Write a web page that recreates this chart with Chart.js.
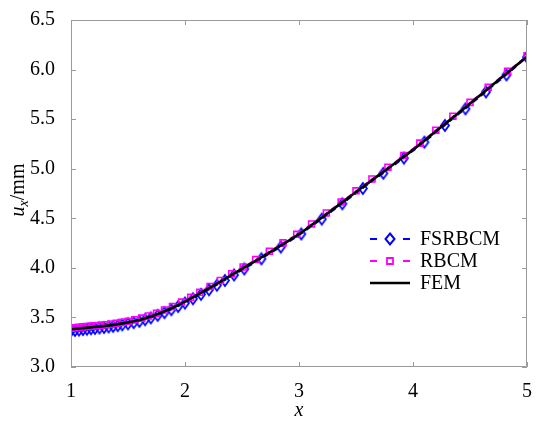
<!DOCTYPE html>
<html>
<head>
<meta charset="utf-8">
<script src="https://cdn.jsdelivr.net/npm/chart.js@4/dist/chart.umd.min.js"></script>
<style>
  html, body { margin: 0; padding: 0; background: #ffffff; }
  #wrap { width: 539px; height: 421px; }
</style>
</head>
<body>
<div id="wrap"><canvas id="c" width="539" height="421"></canvas></div>
<script>
// Displacement u_x along x for three solution methods
const fsrbcmX = [1.000, 1.035, 1.070, 1.105, 1.140, 1.175, 1.210, 1.250, 1.290, 1.330, 1.370, 1.410, 1.450,
  1.500, 1.550, 1.600, 1.650, 1.700, 1.760, 1.820, 1.880, 1.940, 2.000, 2.070, 2.140, 2.210, 2.280, 2.350,
  2.430, 2.520, 2.670, 2.840, 3.020, 3.200, 3.380, 3.560, 3.740, 3.920, 4.100, 4.280, 4.460, 4.640, 4.820, 5.000];
const fsrbcmY = [3.365, 3.369, 3.373, 3.378, 3.382, 3.386, 3.389, 3.394, 3.399, 3.404, 3.410, 3.417, 3.425,
  3.435, 3.447, 3.460, 3.477, 3.495, 3.521, 3.548, 3.578, 3.610, 3.645, 3.688, 3.733, 3.779, 3.825, 3.873,
  3.928, 3.989, 4.091, 4.210, 4.342, 4.492, 4.646, 4.801, 4.954, 5.107, 5.268, 5.436, 5.604, 5.775, 5.946, 6.125];

const rbcmX = [1.000, 1.035, 1.070, 1.105, 1.140, 1.180, 1.220, 1.260, 1.300, 1.350, 1.400, 1.450, 1.500,
  1.560, 1.620, 1.680, 1.750, 1.820, 1.890, 1.970, 2.050, 2.130, 2.220, 2.310, 2.410, 2.510, 2.620, 2.740,
  2.860, 2.980, 3.110, 3.240, 3.370, 3.500, 3.640, 3.780, 3.920, 4.060, 4.200, 4.350, 4.500, 4.660, 4.830, 5.000];
const rbcmY = [3.392, 3.396, 3.400, 3.405, 3.409, 3.413, 3.417, 3.422, 3.427, 3.434, 3.442, 3.452, 3.462,
  3.477, 3.493, 3.515, 3.543, 3.575, 3.610, 3.655, 3.703, 3.753, 3.812, 3.873, 3.941, 4.009, 4.084, 4.167,
  4.252, 4.338, 4.443, 4.553, 4.664, 4.777, 4.896, 5.015, 5.134, 5.258, 5.389, 5.529, 5.669, 5.821, 5.982, 6.140];

const femX = [1.0, 1.1, 1.2, 1.3, 1.4, 1.5, 1.6, 1.7, 1.8, 1.9, 2.0, 2.1, 2.2, 2.3, 2.4, 2.5, 2.6, 2.7, 2.8, 2.9,
  3.0, 3.1, 3.2, 3.3, 3.4, 3.5, 3.6, 3.7, 3.8, 3.9, 4.0, 4.1, 4.2, 4.3, 4.4, 4.5, 4.6, 4.7, 4.8, 4.9, 5.0];
const femY = [3.380, 3.392, 3.403, 3.415, 3.430, 3.450, 3.475, 3.510, 3.553, 3.603, 3.660, 3.722, 3.787, 3.854,
  3.922, 3.990, 4.058, 4.127, 4.197, 4.268, 4.340, 4.423, 4.507, 4.592, 4.678, 4.765, 4.850, 4.935, 5.020,
  5.105, 5.190, 5.283, 5.377, 5.470, 5.563, 5.657, 5.752, 5.847, 5.942, 6.036, 6.130];

const seriesNames = ['FSRBCM', 'RBCM', 'FEM'];
const xTickValues = [1, 2, 3, 4, 5];
const yTickValues = [3.0, 3.5, 4.0, 4.5, 5.0, 5.5, 6.0, 6.5];

const SERIF = "'Liberation Serif', 'Times New Roman', 'DejaVu Serif', serif";
const BLUE = 'rgb(0, 0, 255)';
const MAGENTA = 'rgb(255, 0, 255)';
const AXIS_GRAY = '#9a9a9a';

const toPoints = (xs, ys) => xs.map((x, i) => ({ x: x, y: ys[i] }));

// Narrow hollow diamond used as the FSRBCM marker
function diamondMarker(w, h, color, lw) {
  const cv = document.createElement('canvas');
  cv.width = w + 4; cv.height = h + 4;
  const g = cv.getContext('2d');
  const cx = cv.width / 2, cy = cv.height / 2;
  g.strokeStyle = color;
  g.lineWidth = lw;
  g.beginPath();
  g.moveTo(cx, cy - h / 2); g.lineTo(cx + w / 2, cy); g.lineTo(cx, cy + h / 2); g.lineTo(cx - w / 2, cy);
  g.closePath();
  g.stroke();
  return cv;
}
const diamondImg = diamondMarker(8, 11, BLUE, 1.8);

// Box around the plotting area with inward-pointing ticks on all four sides
const framePlugin = {
  id: 'frame',
  afterDatasetsDraw(chart) {
    const { ctx, chartArea: a, scales } = chart;
    const len = 5;
    ctx.save();
    ctx.strokeStyle = AXIS_GRAY;
    ctx.lineWidth = 1;
    ctx.beginPath();
    ctx.rect(a.left + 0.5, a.top + 0.5, a.right - a.left - 1, a.bottom - a.top - 1);
    xTickValues.forEach(v => {
      const px = Math.round(scales.x.getPixelForValue(v)) + 0.5;
      ctx.moveTo(px, a.bottom); ctx.lineTo(px, a.bottom - len);
      ctx.moveTo(px, a.top); ctx.lineTo(px, a.top + len);
    });
    yTickValues.forEach(v => {
      const py = Math.round(scales.y.getPixelForValue(v)) + 0.5;
      ctx.moveTo(a.left, py); ctx.lineTo(a.left + len, py);
      ctx.moveTo(a.right, py); ctx.lineTo(a.right - len, py);
    });
    ctx.stroke();
    ctx.restore();
  }
};

// Axis titles: italic x below, and u_x/mm with a subscript along the left side
const titlesPlugin = {
  id: 'titles',
  afterDraw(chart) {
    const { ctx, chartArea: a } = chart;
    ctx.save();
    ctx.fillStyle = '#000';
    ctx.textBaseline = 'alphabetic';
    ctx.textAlign = 'center';
    ctx.font = 'italic 20px ' + SERIF;
    ctx.fillText('x', (a.left + a.right) / 2, 416);

    // vertical title
    const mainFont = 'italic 20px ' + SERIF;
    const subFont = 'italic 14px ' + SERIF;
    const upFont = '20px ' + SERIF;
    ctx.font = mainFont; const wU = ctx.measureText('u').width;
    ctx.font = subFont; const wX = ctx.measureText('x').width;
    ctx.font = upFont; const wMm = ctx.measureText('/mm').width;
    const total = wU + wX + wMm;
    ctx.translate(24, 190);
    ctx.rotate(-Math.PI / 2);
    ctx.textAlign = 'left';
    let cx = -total / 2;
    ctx.font = mainFont; ctx.fillText('u', cx, 0); cx += wU;
    ctx.font = subFont; ctx.fillText('x', cx, 4); cx += wX;
    ctx.font = upFont; ctx.fillText('/mm', cx, 0);
    ctx.restore();
  }
};

// Legend entries inside the plot
const legendPlugin = {
  id: 'customLegend',
  afterDraw(chart) {
    const { ctx } = chart;
    const rows = [
      { name: seriesNames[0], color: BLUE, dashed: true, marker: 'diamond' },
      { name: seriesNames[1], color: MAGENTA, dashed: true, marker: 'square' },
      { name: seriesNames[2], color: '#000', dashed: false, marker: null }
    ];
    const x0 = 370, x1 = 410, tx = 420;
    const ys = [239, 261, 283];
    ctx.save();
    rows.forEach((r, i) => {
      const y = ys[i];
      ctx.strokeStyle = r.color;
      if (r.dashed) {
        ctx.lineWidth = 2;
        ctx.beginPath();
        ctx.moveTo(x0, y); ctx.lineTo(x0 + 7, y);
        ctx.moveTo(x1 - 7, y); ctx.lineTo(x1, y);
        ctx.stroke();
        const mx = (x0 + x1) / 2;
        ctx.beginPath();
        if (r.marker === 'diamond') {
          ctx.lineWidth = 2;
          ctx.moveTo(mx, y - 5.5); ctx.lineTo(mx + 4.5, y); ctx.lineTo(mx, y + 5.5); ctx.lineTo(mx - 4.5, y); ctx.closePath();
        } else {
          ctx.lineWidth = 1.8;
          ctx.rect(mx - 3, y - 3, 6, 6);
        }
        ctx.stroke();
      } else {
        ctx.lineWidth = 2.5;
        ctx.beginPath();
        ctx.moveTo(x0, y); ctx.lineTo(x1, y);
        ctx.stroke();
      }
      ctx.fillStyle = '#000';
      ctx.font = '20px ' + SERIF;
      ctx.textAlign = 'left';
      ctx.textBaseline = 'middle';
      ctx.fillText(r.name, tx, y + 1);
    });
    ctx.restore();
  }
};

new Chart(document.getElementById('c'), {
  type: 'line',
  data: {
    datasets: [
      {
        label: seriesNames[0],
        data: toPoints(fsrbcmX, fsrbcmY),
        borderColor: BLUE,
        backgroundColor: 'rgba(0,0,0,0)',
        borderWidth: 1.5,
        borderDash: [6, 4],
        pointStyle: diamondImg,
        pointRadius: 5,
        tension: 0,
        order: 2
      },
      {
        label: seriesNames[1],
        data: toPoints(rbcmX, rbcmY),
        borderColor: MAGENTA,
        backgroundColor: 'rgba(0,0,0,0)',
        borderWidth: 1.5,
        borderDash: [6, 4],
        pointStyle: 'rect',
        pointRadius: 4.2,
        pointBorderWidth: 1.6,
        pointBorderColor: MAGENTA,
        pointBackgroundColor: 'rgba(0,0,0,0)',
        tension: 0,
        order: 1
      },
      {
        label: seriesNames[2],
        data: toPoints(femX, femY),
        borderColor: '#000000',
        backgroundColor: 'rgba(0,0,0,0)',
        borderWidth: 2.6,
        pointRadius: 0,
        tension: 0.3,
        order: 0
      }
    ]
  },
  options: {
    responsive: false,
    animation: false,
    events: [],
    layout: { padding: { top: 16, right: 12, left: 0, bottom: 0 } },
    plugins: {
      legend: { display: false },
      tooltip: { enabled: false },
      title: { display: false }
    },
    scales: {
      x: {
        type: 'linear',
        min: 1,
        max: 5,
        afterBuildTicks: s => { s.ticks = xTickValues.map(v => ({ value: v })); },
        afterFit: s => { s.height = 54; },
        grid: { display: false },
        border: { display: false },
        ticks: {
          color: '#000',
          font: { family: SERIF, size: 20 },
          padding: 5,
          maxRotation: 0,
          callback: v => String(v)
        }
      },
      y: {
        type: 'linear',
        min: 3,
        max: 6.5,
        afterBuildTicks: s => { s.ticks = yTickValues.map(v => ({ value: v })); },
        afterFit: s => { s.width = 71; },
        grid: { display: false },
        border: { display: false },
        ticks: {
          color: '#000',
          font: { family: SERIF, size: 20 },
          padding: 8,
          callback: v => Number(v).toFixed(1)
        }
      }
    }
  },
  plugins: [framePlugin, titlesPlugin, legendPlugin]
});
</script>
</body>
</html>
